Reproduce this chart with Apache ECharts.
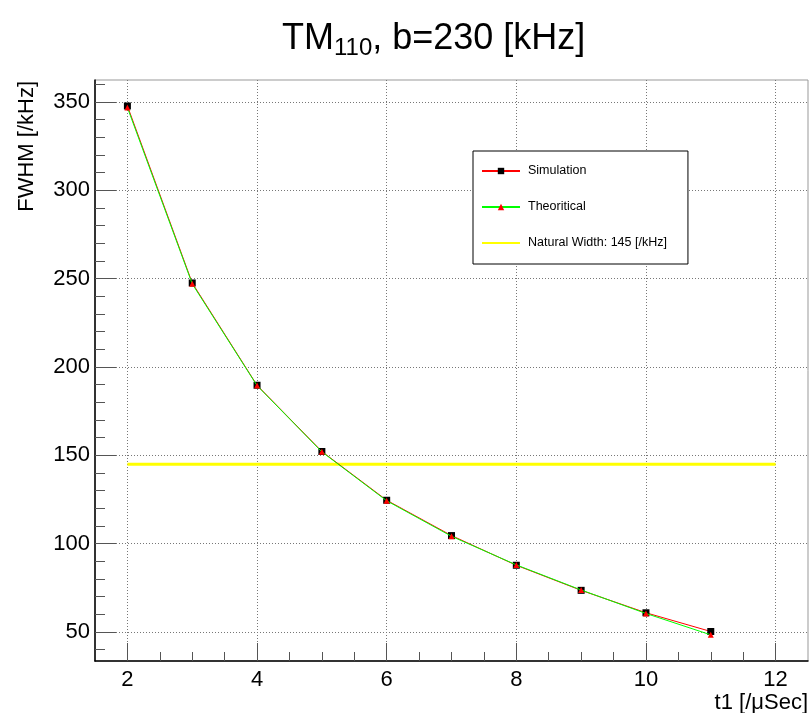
<!DOCTYPE html>
<html>
<head>
<meta charset="utf-8">
<script src="https://cdn.jsdelivr.net/npm/echarts@6/dist/echarts.min.js"></script>
<style>
html,body{margin:0;padding:0;background:#fff;}
#chart{width:811px;height:713px;}
</style>
</head>
<body>
<div id="chart"></div>
<script>
// ---- data ----
const xVals = [2, 3, 4, 5, 6, 7, 8, 9, 10, 11];
const simY = [347.8, 247.6, 189.7, 152.2, 124.6, 104.6, 87.8, 73.6, 60.9, 50.3];
const theoY = [346.9, 247.1, 189.5, 152.0, 124.3, 104.2, 88.0, 73.8, 60.5, 48.4];
const natX = [2, 12];
const natY = [145, 145];
const xMajorTicks = [2, 4, 6, 8, 10, 12];
const xMinorTicks = [2, 2.5, 3, 3.5, 4, 4.5, 5, 5.5, 6, 6.5, 7, 7.5, 8, 8.5, 9, 9.5, 10, 10.5, 11, 11.5, 12];
const yMajorTicks = [50, 100, 150, 200, 250, 300, 350];
const yMinorTicks = [40, 50, 60, 70, 80, 90, 100, 110, 120, 130, 140, 150, 160, 170, 180, 190, 200, 210, 220, 230, 240, 250, 260, 270, 280, 290, 300, 310, 320, 330, 340, 350, 360];

const FONT = '"Liberation Sans", Arial, Helvetica, sans-serif';
const chart = echarts.init(document.getElementById('chart'), null, {renderer: 'canvas'});

const simData = xVals.map((x, i) => [x, simY[i]]);
const theoData = xVals.map((x, i) => [x, theoY[i]]);
const natData = natX.map((x, i) => [x, natY[i]]);

const option = {
  animation: false,
  backgroundColor: '#ffffff',
  title: {
    text: '{m|TM}{s|110}{m|, b=230 [kHz]}',
    left: 277,
    top: 14,
    textStyle: {
      fontWeight: 'normal',
      rich: {
        m: {fontSize: 36, fontFamily: FONT, fontWeight: 'normal', color: '#000', lineHeight: 40},
        s: {fontSize: 24, fontFamily: FONT, fontWeight: 'normal', color: '#000', lineHeight: 24, padding: [18, 0, 0, 0]}
      }
    }
  },
  graphic: [
    {
      type: 'text',
      x: 27, y: 81,
      rotation: Math.PI / 2,
      style: {text: 'FWHM [/kHz]', font: '22px ' + FONT, fill: '#000', align: 'right', verticalAlign: 'middle'}
    },
    {
      type: 'text',
      x: 808, y: 703,
      style: {text: 't1 [/\u03bcSec]', font: '22px ' + FONT, fill: '#000', align: 'right', verticalAlign: 'middle'}
    }
  ],
  legend: {
    orient: 'vertical',
    left: 473,
    top: 151,
    itemWidth: 38,
    itemHeight: 8,
    itemGap: 22,
    padding: [13, 21, 14, 8],
    backgroundColor: '#ffffff',
    borderColor: '#000',
    borderWidth: 1,
    textStyle: {fontSize: 12.5, fontFamily: FONT, color: '#000', padding: [0, 0, 0, 3], lineHeight: 14},
    data: [
      {name: 'Simulation'},
      {name: 'Theoritical'},
      {name: 'Natural Width: 145 [/kHz]', itemStyle: {opacity: 0}}
    ]
  },
  grid: {left: 95, right: 3, top: 80, bottom: 52, show: true, borderColor: '#999', borderWidth: 1, backgroundColor: 'transparent'},
  xAxis: [
    {
      type: 'value', min: 1.5, max: 12.5, position: 'bottom',
      axisLine: {show: true, onZero: false, lineStyle: {color: '#000', width: 1.5}},
      axisTick: {show: true, inside: true, length: 18, customValues: xMajorTicks, lineStyle: {color: '#555', width: 1}},
      axisLabel: {customValues: xMajorTicks, fontSize: 22, fontFamily: FONT, color: '#000', margin: 8},
      splitLine: {show: true, lineStyle: {color: '#777', width: 1, type: [1, 2]}}
    },
    {
      type: 'value', min: 1.5, max: 12.5, position: 'bottom',
      axisLine: {show: false},
      axisTick: {show: true, inside: true, length: 9, customValues: xMinorTicks, lineStyle: {color: '#555', width: 1}},
      axisLabel: {show: false},
      splitLine: {show: false}
    }
  ],
  yAxis: [
    {
      type: 'value', min: 33.6, max: 362.5, position: 'left',
      axisLine: {show: true, onZero: false, lineStyle: {color: '#000', width: 1.5}},
      axisTick: {show: true, inside: true, length: 21, customValues: yMajorTicks, lineStyle: {color: '#555', width: 1}},
      axisLabel: {customValues: yMajorTicks, fontSize: 22, fontFamily: FONT, color: '#000', margin: 5},
      splitLine: {show: true, lineStyle: {color: '#777', width: 1, type: [1, 2]}}
    },
    {
      type: 'value', min: 33.6, max: 362.5, position: 'left',
      axisLine: {show: false},
      axisTick: {show: true, inside: true, length: 10, customValues: yMinorTicks, lineStyle: {color: '#555', width: 1}},
      axisLabel: {show: false},
      splitLine: {show: false}
    }
  ],
  series: [
    {
      name: 'Simulation', type: 'line', data: simData, xAxisIndex: 0, yAxisIndex: 0,
      symbol: 'rect', symbolSize: 7, showAllSymbol: true,
      lineStyle: {color: '#ff0000', width: 1},
      itemStyle: {color: '#000000'},
      z: 3
    },
    {
      name: 'Theoritical', type: 'line', data: theoData, xAxisIndex: 0, yAxisIndex: 0,
      symbol: 'triangle', symbolSize: 6, showAllSymbol: true,
      lineStyle: {color: '#00ff00', width: 1},
      itemStyle: {color: '#ff0000'},
      z: 4
    },
    {
      name: 'Natural Width: 145 [/kHz]', type: 'line', data: natData, xAxisIndex: 0, yAxisIndex: 0,
      symbol: 'none',
      lineStyle: {color: '#ffff00', width: 3},
      itemStyle: {color: '#ffff00'},
      z: 2
    }
  ]
};
chart.setOption(option);
</script>
</body>
</html>
